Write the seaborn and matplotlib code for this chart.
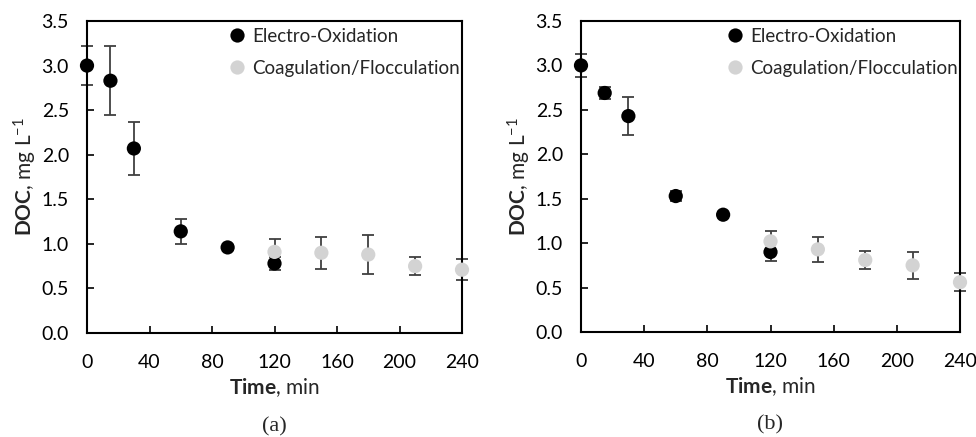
import numpy as np
import pandas as pd
import matplotlib
matplotlib.use("Agg")
import matplotlib.pyplot as plt
import seaborn as sns

# ---- data ----
time_eo = [0, 15, 30, 60, 90, 120]
time_cf = [120, 150, 180, 210, 240]

a_eo = [3.00, 2.83, 2.07, 1.14, 0.96, 0.78]
a_eo_err = [0.22, 0.39, 0.30, 0.14, 0.03, 0.07]
a_cf = [0.91, 0.90, 0.88, 0.75, 0.71]
a_cf_err = [0.15, 0.18, 0.22, 0.10, 0.12]

b_eo = [3.00, 2.69, 2.43, 1.53, 1.32, 0.90]
b_eo_err = [0.13, 0.07, 0.21, 0.06, 0.02, 0.10]
b_cf = [1.02, 0.93, 0.81, 0.75, 0.56]
b_cf_err = [0.12, 0.14, 0.10, 0.15, 0.10]

series_names = ["Electro-Oxidation", "Coagulation/Flocculation"]
xticks = [0, 40, 80, 120, 160, 200, 240]
yticks = [0.0, 0.5, 1.0, 1.5, 2.0, 2.5, 3.0, 3.5]
panel_labels = ["(a)", "(b)"]

sns.set_theme(style="white")
plt.rcParams['font.family'] = ['Lato', 'DejaVu Sans']
plt.rcParams['mathtext.fontset'] = 'custom'
plt.rcParams['mathtext.rm'] = 'Lato'
plt.rcParams['mathtext.bf'] = 'Lato:bold'
plt.rcParams['mathtext.it'] = 'Lato:italic'

colors = {series_names[0]: "#000000", series_names[1]: "#d3d3d3"}
errc = "#404040"

fig = plt.figure(figsize=(9.76, 4.37), dpi=100)
W, H = 976, 437
axes = [
    fig.add_axes([87 / W, 104 / H, 375 / W, 312 / H]),
    fig.add_axes([581 / W, 105 / H, 379 / W, 311 / H]),
]

panels = [(a_eo, a_eo_err, a_cf, a_cf_err), (b_eo, b_eo_err, b_cf, b_cf_err)]

for ax, (eo, eoe, cf, cfe), lab in zip(axes, panels, panel_labels):
    df = pd.DataFrame({
        "Time": time_eo + time_cf,
        "DOC": eo + cf,
        "err": eoe + cfe,
        "Series": [series_names[0]] * len(time_eo) + [series_names[1]] * len(time_cf),
    })
    for name in series_names:
        sub = df[df.Series == name]
        ax.errorbar(sub.Time, sub.DOC, yerr=sub.err, fmt="none", ecolor=errc,
                    elinewidth=1.3, capsize=4, capthick=1.3, zorder=2, clip_on=False)
    sns.scatterplot(data=df, x="Time", y="DOC", hue="Series", palette=colors,
                    hue_order=series_names, s=105, edgecolor="none", ax=ax,
                    zorder=3, clip_on=False)
    ax.set_xlim(0, 240)
    ax.set_ylim(0, 3.5)
    ax.set_xticks(xticks)
    ax.set_yticks(yticks)
    ax.set_yticklabels([f"{v:.1f}" for v in yticks])
    ax.tick_params(axis="both", direction="in", length=5, width=1.2, colors="black",
                   labelsize=14, left=True, bottom=True)
    ax.tick_params(axis="x", pad=15)
    ax.tick_params(axis="y", pad=13)
    for sp in ax.spines.values():
        sp.set_visible(True)
        sp.set_color("black")
        sp.set_linewidth(1.5)
    ax.set_xlabel(r"$\mathbf{Time}$, min", fontsize=15, labelpad=4)
    ax.set_ylabel(r"$\mathbf{DOC}$, mg L$^{\mathregular{-1}}$", fontsize=15, labelpad=2)
    leg = ax.legend(loc="upper right", frameon=False, fontsize=13.5, handletextpad=-0.2,
                    borderaxespad=0.3, labelspacing=0.8, markerscale=1.0,
                    bbox_to_anchor=(1.03, 1.02))
    ax.text(0.5, -0.30, lab, transform=ax.transAxes, ha="center", va="center",
            fontsize=16, family="Liberation Serif")

fig.savefig("out.png", dpi=100)
